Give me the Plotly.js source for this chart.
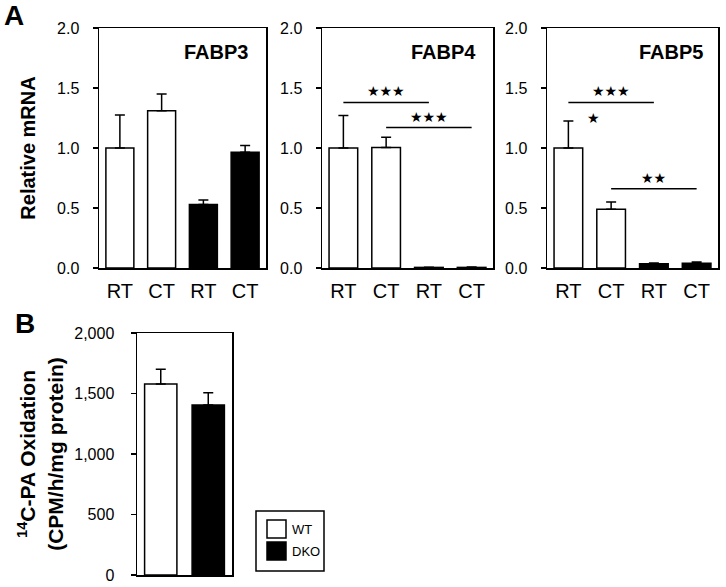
<!DOCTYPE html>
<html><head><meta charset="utf-8">
<script src="https://cdn.plot.ly/plotly-3.0.1.min.js"></script>
<style>html,body{margin:0;padding:0;background:#fff}#chart{width:726px;height:587px}</style>
</head><body><div id="chart"></div>
<script>
// ---- data ----
const tickPos = [0, 1, 2, 3];
const tickLabels = ['RT', 'CT', 'RT', 'CT'];
const wtX = [0, 1];
const dkoX = [2, 3];

const fabp3WT = [1.00, 1.31];
const fabp3WTErr = [0.275, 0.14];
const fabp3DKO = [0.53, 0.964];
const fabp3DKOErr = [0.037, 0.056];

const fabp4WT = [1.00, 1.005];
const fabp4WTErr = [0.27, 0.085];
const fabp4DKO = [0.005, 0.005];
const fabp4DKOErr = [0.002, 0.003];

const fabp5WT = [1.00, 0.49];
const fabp5WTErr = [0.225, 0.06];
const fabp5DKO = [0.035, 0.04];
const fabp5DKOErr = [0.006, 0.01];

const oxGroups = ['WT', 'DKO'];
const oxValues = [1578, 1405];
const oxErr = [122, 102];
const legendLabels = ['WT', 'DKO'];
const legendFills = ['#fff', '#000'];

// significance brackets
const fabp4SigFrom = [0, 1];
const fabp4SigTo = [2, 3];
const fabp4SigLevel = [1.38, 1.17];
const fabp4SigLabel = ['★★★', '★★★'];
const fabp5SigFrom = [0, 1];
const fabp5SigTo = [2, 3];
const fabp5SigLevel = [1.38, 0.66];
const fabp5SigLabel = ['★★★', '★★'];
const fabp5SingleStar = {x: 0.58, y: 1.25, label: '★'};

// ---- build ----
const W = 726, H = 587;
const px = v => v / W;
const py = v => 1 - v / H;
const LINE = 1.5;
const FONT = 'Arial, "Liberation Sans", sans-serif';

function barTrace(x, y, err, fill, xa, ya, name) {
  return {
    type: 'bar', x: x, y: y, xaxis: xa, yaxis: ya, name: name, showlegend: false,
    width: 0.67,
    marker: {color: fill, line: {color: '#000', width: LINE}},
    error_y: {type: 'data', symmetric: false, array: err, arrayminus: err.map(() => 0),
              color: '#000', thickness: LINE, width: 5}
  };
}

const traces = [
  barTrace(wtX, fabp3WT, fabp3WTErr, '#fff', 'x', 'y', 'WT'),
  barTrace(dkoX, fabp3DKO, fabp3DKOErr, '#000', 'x', 'y', 'DKO'),
  barTrace(wtX, fabp4WT, fabp4WTErr, '#fff', 'x2', 'y2', 'WT'),
  barTrace(dkoX, fabp4DKO, fabp4DKOErr, '#000', 'x2', 'y2', 'DKO'),
  barTrace(wtX, fabp5WT, fabp5WTErr, '#fff', 'x3', 'y3', 'WT'),
  barTrace(dkoX, fabp5DKO, fabp5DKOErr, '#000', 'x3', 'y3', 'DKO'),
  barTrace([oxGroups[0]], [oxValues[0]], [oxErr[0]], '#fff', 'x4', 'y4', oxGroups[0]),
  barTrace([oxGroups[1]], [oxValues[1]], [oxErr[1]], '#000', 'x4', 'y4', oxGroups[1])
];
traces[6].width = 0.68; traces[7].width = 0.68;

function sigTraces(from, to, level, xa, ya) {
  return from.map((f, i) => ({
    type: 'scatter', mode: 'lines', x: [f, to[i]], y: [level[i], level[i]],
    xaxis: xa, yaxis: ya, showlegend: false, hoverinfo: 'skip',
    line: {color: '#000', width: LINE}
  }));
}
traces.push(...sigTraces(fabp4SigFrom, fabp4SigTo, fabp4SigLevel, 'x2', 'y2'));
traces.push(...sigTraces(fabp5SigFrom, fabp5SigTo, fabp5SigLevel, 'x3', 'y3'));

const annotations = [];
const shapes = [];
function sigLabels(from, to, level, label, xa, ya) {
  from.forEach((f, i) => annotations.push({
    xref: xa, yref: ya, x: (f + to[i]) / 2, y: level[i], text: label[i], showarrow: false,
    yanchor: 'bottom', yshift: 1, font: {family: '"DejaVu Sans"', size: 14, color: '#000'}
  }));
}
sigLabels(fabp4SigFrom, fabp4SigTo, fabp4SigLevel, fabp4SigLabel, 'x2', 'y2');
sigLabels(fabp5SigFrom, fabp5SigTo, fabp5SigLevel, fabp5SigLabel, 'x3', 'y3');
annotations.push({xref: 'x3', yref: 'y3', x: fabp5SingleStar.x, y: fabp5SingleStar.y, text: fabp5SingleStar.label,
  showarrow: false, font: {family: '"DejaVu Sans"', size: 14, color: '#000'}});

const panelTitles = [['FABP3', 'x', 'y', 0.905], ['FABP4', 'x2', 'y2', 0.912], ['FABP5', 'x3', 'y3', 0.924]];
panelTitles.forEach(t => annotations.push({
  xref: t[1] + ' domain', yref: t[2] + ' domain', x: t[3], y: 0.9, xanchor: 'right', yanchor: 'middle',
  text: t[0], showarrow: false, font: {family: FONT, size: 20, weight: 'bold', color: '#000'}
}));
annotations.push({xref: 'paper', yref: 'paper', x: px(2), y: py(15), xanchor: 'left', yanchor: 'middle',
  text: 'A', showarrow: false, font: {family: FONT, size: 28, weight: 'bold', color: '#000'}});
annotations.push({xref: 'paper', yref: 'paper', x: px(13), y: py(323), xanchor: 'left', yanchor: 'middle',
  text: 'B', showarrow: false, font: {family: FONT, size: 28, weight: 'bold', color: '#000'}});

// legend (box, swatches, labels)
shapes.push({type: 'rect', xref: 'paper', yref: 'paper', x0: px(256), x1: px(324), y0: py(571), y1: py(511),
  line: {color: '#000', width: LINE}, fillcolor: '#fff'});
legendLabels.forEach((lab, i) => {
  const top = 520 + i * 22;
  shapes.push({type: 'rect', xref: 'paper', yref: 'paper', x0: px(267), x1: px(286), y0: py(top + 18), y1: py(top),
    line: {color: '#000', width: LINE}, fillcolor: legendFills[i]});
  annotations.push({xref: 'paper', yref: 'paper', x: px(290), y: py(top + 9), xanchor: 'left', yanchor: 'middle',
    text: lab, showarrow: false, font: {family: FONT, size: 13, color: '#000'}});
});

const yTickFont = {family: FONT, size: 16, color: '#000'};
const xTickFont = {family: FONT, size: 20, color: '#000'};
function xAxis(dom, anchor, labels) {
  return {
    domain: dom, anchor: anchor, range: labels ? [-0.5, 3.5] : undefined,
    tickmode: labels ? 'array' : undefined, tickvals: labels ? tickPos : undefined, ticktext: labels ? tickLabels : undefined,
    showticklabels: !!labels, ticks: '', ticklabelstandoff: 4, showline: true, mirror: true, linecolor: '#000', linewidth: LINE,
    showgrid: false, zeroline: false, tickfont: xTickFont, fixedrange: true
  };
}
function yAxis(dom, anchor, range, dtick, fmt, standoff, title) {
  const a = {
    domain: dom, anchor: anchor, range: range, dtick: dtick, tick0: 0, tickformat: fmt,
    ticks: 'outside', ticklen: 5, tickwidth: LINE, tickcolor: '#000', ticklabelstandoff: standoff,
    showline: true, mirror: true, linecolor: '#000', linewidth: LINE,
    showgrid: false, zeroline: false, tickfont: yTickFont, fixedrange: true
  };
  if (title) a.title = title;
  return a;
}

const layout = {
  width: W, height: H, margin: {l: 0, r: 0, t: 0, b: 0},
  paper_bgcolor: '#fff', plot_bgcolor: '#fff',
  barmode: 'overlay', bargap: 0.33, showlegend: false,
  font: {family: FONT, color: '#000'},
  xaxis: xAxis([px(99), px(266)], 'y', true),
  yaxis: yAxis([py(268), py(28)], 'x', [0, 2], 0.5, '.1f', 10,
    {text: 'Relative mRNA', font: {family: FONT, size: 20, weight: 'bold', color: '#000'}, standoff: 16}),
  xaxis2: xAxis([px(322), px(493)], 'y2', true),
  yaxis2: yAxis([py(268), py(28)], 'x2', [0, 2], 0.5, '.1f', 10),
  xaxis3: xAxis([px(547), px(718)], 'y3', true),
  yaxis3: yAxis([py(268), py(28)], 'x3', [0, 2], 0.5, '.1f', 10),
  xaxis4: Object.assign(xAxis([px(137), px(232)], 'y4', false), {type: 'category'}),
  yaxis4: yAxis([py(575), py(333)], 'x4', [0, 2000], 500, ',d', 13,
    {text: '<sup>14</sup>C-PA Oxidation<br>(CPM/h/mg protein)', font: {family: FONT, size: 21, weight: 'bold', color: '#000'}, standoff: 5}),
  shapes: shapes,
  annotations: annotations
};

Plotly.newPlot('chart', traces, layout, {displayModeBar: false, staticPlot: true});
</script></body></html>
